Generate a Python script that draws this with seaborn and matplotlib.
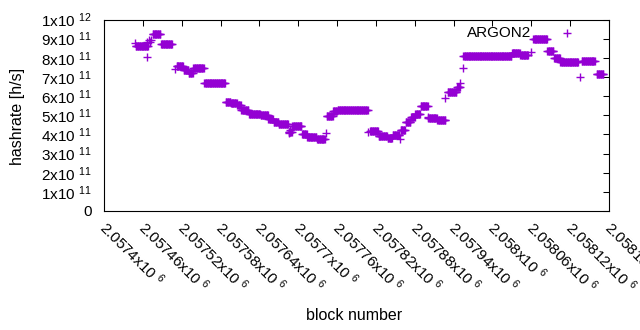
#!/usr/bin/env python3
"""
Hashrate estimate per block (ARGON2), gnuplot-like look, drawn with seaborn.

Output: out.png (640x330)
"""

import numpy as np
import pandas as pd
import seaborn as sns
import matplotlib.pyplot as plt
from matplotlib.transforms import ScaledTranslation

# --- Data ---
# Runs of consecutive blocks that share one hashrate estimate, value in 1e11 h/s
run_first = [2057449, 2057475, 2057488, 2057512, 2057523, 2057531, 2057538, 2057555,
             2057588, 2057596, 2057606, 2057612, 2057624, 2057642, 2057654, 2057662,
             2057670, 2057685, 2057691, 2057706, 2057714, 2057729, 2057744, 2057754,
             2057761, 2057811, 2057824, 2057838, 2057846, 2057858, 2057866, 2057874,
             2057881, 2057889, 2057901, 2057915, 2057931, 2057945, 2057955, 2058030,
             2058043, 2058063, 2058085, 2058095, 2058105, 2058138, 2058161]
run_last = [2057468, 2057487, 2057505, 2057522, 2057530, 2057537, 2057554, 2057587,
            2057595, 2057605, 2057611, 2057623, 2057641, 2057653, 2057661, 2057669,
            2057684, 2057690, 2057705, 2057713, 2057728, 2057741, 2057753, 2057760,
            2057807, 2057823, 2057837, 2057845, 2057856, 2057865, 2057873, 2057880,
            2057888, 2057900, 2057914, 2057927, 2057944, 2057950, 2058029, 2058042,
            2058055, 2058084, 2058094, 2058104, 2058132, 2058158, 2058171]
run_rate = [8.60, 9.23, 8.70, 7.55, 7.37, 7.20, 7.46, 6.67,
            5.69, 5.63, 5.56, 5.27, 5.04, 4.99, 4.80, 4.65,
            4.52, 4.15, 4.42, 4.04, 3.86, 3.76, 4.98, 5.21,
            5.27, 4.18, 3.92, 3.79, 3.97, 4.23, 4.67, 4.91,
            5.06, 5.48, 4.86, 4.75, 6.21, 6.47, 8.12, 8.25,
            8.16, 8.98, 8.38, 7.99, 7.77, 7.82, 7.15]

# Lone blocks that fall off their run
lone_block = [2057448, 2057467, 2057466, 2057469, 2057471, 2057473, 2057510, 2057686,
              2057688, 2057743, 2057808, 2057857, 2057900, 2057927, 2057950, 2057954,
              2058059, 2058135]
lone_rate = [8.77, 8.03, 8.80, 8.92, 8.85, 8.95, 7.40, 4.05,
             4.25, 4.06, 4.14, 3.74, 4.92, 5.88, 6.67, 7.45,
             8.32, 6.98]

x_ticks = [2057400, 2057460, 2057520, 2057580, 2057640, 2057700, 2057760,
           2057820, 2057880, 2057940, 2058000, 2058060, 2058120, 2058180]
x_tick_labels = ["2.0574x10 $^{6}$", "2.05746x10 $^{6}$", "2.05752x10 $^{6}$",
                 "2.05758x10 $^{6}$", "2.05764x10 $^{6}$", "2.0577x10 $^{6}$",
                 "2.05776x10 $^{6}$", "2.05782x10 $^{6}$", "2.05788x10 $^{6}$",
                 "2.05794x10 $^{6}$", "2.058x10 $^{6}$", "2.05806x10 $^{6}$",
                 "2.05812x10 $^{6}$", "2.05818x10 $^{6}$"]
y_ticks = [0, 1e11, 2e11, 3e11, 4e11, 5e11, 6e11, 7e11, 8e11, 9e11, 1e12]
y_tick_labels = ["0", "1x10 $^{11}$", "2x10 $^{11}$", "3x10 $^{11}$", "4x10 $^{11}$",
                 "5x10 $^{11}$", "6x10 $^{11}$", "7x10 $^{11}$", "8x10 $^{11}$",
                 "9x10 $^{11}$", "1x10 $^{12}$"]

COLOR = "#9400d3"

sns.set_theme(style="white")
plt.rcParams["font.family"] = ["Liberation Sans", "DejaVu Sans"]
plt.rcParams["mathtext.fontset"] = "custom"
plt.rcParams["mathtext.rm"] = "Liberation Sans"
plt.rcParams["mathtext.it"] = "Liberation Sans:italic"
plt.rcParams["mathtext.bf"] = "Liberation Sans:bold"
plt.rcParams["text.color"] = "black"
plt.rcParams["axes.labelcolor"] = "black"
plt.rcParams["xtick.color"] = "black"
plt.rcParams["ytick.color"] = "black"


def build_frame() -> pd.DataFrame:
    blocks, rates = [], []
    for first, last, rate in zip(run_first, run_last, run_rate):
        span = np.arange(first, last + 1)
        blocks.append(span)
        rates.append(np.full(len(span), rate))
    blocks.append(np.array(lone_block))
    rates.append(np.array(lone_rate))
    df = pd.DataFrame({"block": np.concatenate(blocks),
                       "hashrate": np.concatenate(rates) * 1e11})
    return df.sort_values("block")


df = build_frame()

fig = plt.figure(figsize=(6.4, 3.3), dpi=100)
ax = fig.add_axes([104 / 640, 1 - 211 / 330, 505 / 640, 191.5 / 330])

sns.scatterplot(data=df, x="block", y="hashrate", marker="+", s=30,
                color=COLOR, linewidth=1.0, label="ARGON2", legend=False, ax=ax)

ax.set_xlim(x_ticks[0], x_ticks[-1])
ax.set_ylim(y_ticks[0], y_ticks[-1])
ax.set_xticks(x_ticks)
ax.set_xticklabels(x_tick_labels, rotation=-45, ha="left", va="top",
                   rotation_mode="anchor")
ax.set_yticks(y_ticks)
ax.set_yticklabels(y_tick_labels)
ax.tick_params(axis="both", which="major", direction="in", length=4.5, width=0.75,
               top=True, right=True, labelsize=11, colors="black")
ax.tick_params(axis="y", pad=8.5)
ax.tick_params(axis="x", pad=5)

# nudge rotated labels so the first glyph starts right at its tick
shift = ScaledTranslation(5 / 100, 0, fig.dpi_scale_trans)
for lab in ax.get_xticklabels():
    lab.set_transform(lab.get_transform() + shift)

for s in ax.spines.values():
    s.set_color("black")
    s.set_linewidth(0.8)

ax.set_xlabel("")
ax.set_ylabel("")
fig.text(354 / 640, 1 - 316 / 330, "block number", ha="center", va="center", fontsize=11.5)
fig.text(18 / 640, 1 - 116 / 330, "hashrate [h/s]", ha="center", va="center",
         rotation=90, fontsize=11.5)

ax.legend(loc="center right", bbox_to_anchor=(0.948, 0.932), frameon=False,
          markerfirst=False, handlelength=2.0, handletextpad=1.35,
          borderpad=0, borderaxespad=0, fontsize=11)

fig.savefig("out.png", dpi=100)
plt.close(fig)
